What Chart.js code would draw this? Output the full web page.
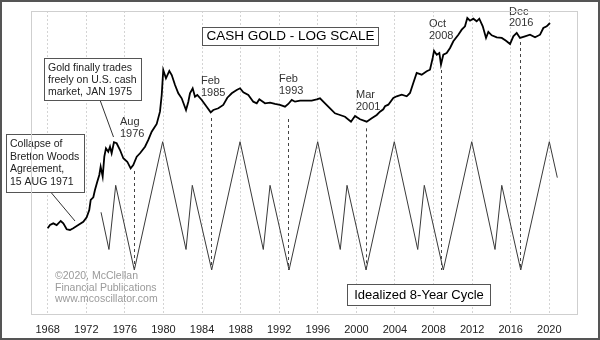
<!DOCTYPE html>
<html>
<head>
<meta charset="utf-8">
<script src="https://cdn.jsdelivr.net/npm/chart.js@4/dist/chart.umd.min.js"></script>
<style>
  html, body { margin: 0; padding: 0; background: #fff; }
  #wrap { width: 600px; height: 340px; }
</style>
</head>
<body>
<div id="wrap"><canvas id="chart" width="600" height="340"></canvas></div>
<script>
// cash gold, monthly-ish readings ($/oz, log scale)
const goldYears = [
  1968.0, 1968.24, 1968.58, 1968.93, 1969.35, 1969.62, 1969.97, 1970.31, 1970.65, 1971.17,
  1971.69, 1972.04, 1972.31, 1972.46, 1972.73, 1972.9, 1973.14, 1973.35, 1973.49, 1973.7,
  1973.87, 1974.04, 1974.28, 1974.46, 1974.63, 1974.87, 1975.15, 1975.5, 1975.84, 1976.25,
  1976.6, 1976.87, 1977.23, 1977.57, 1978.09, 1978.43, 1978.78, 1979.3, 1979.64, 1979.82,
  1979.98, 1980.26, 1980.61, 1980.86, 1981.2, 1981.54, 1981.89, 1982.34, 1982.58, 1982.75,
  1983.03, 1983.27, 1983.51, 1983.97, 1984.48, 1984.9, 1985.17, 1985.69, 1986.2, 1986.62,
  1987.08, 1987.59, 1987.94, 1988.28, 1988.8, 1989.31, 1989.67, 1989.94, 1990.53, 1991.05,
  1991.56, 1992.08, 1992.6, 1992.94, 1993.3, 1993.64, 1994.16, 1994.67, 1995.37, 1995.89,
  1996.23, 1996.75, 1997.27, 1997.78, 1998.3, 1998.82, 1999.44, 1999.86, 2000.38, 2001.07,
  2001.59, 2002.11, 2002.45, 2002.79, 2002.97, 2003.31, 2003.83, 2004.18, 2004.7, 2005.22,
  2005.56, 2005.9, 2006.25, 2006.77, 2007.29, 2007.63, 2007.91, 2008.05, 2008.33, 2008.6,
  2008.77, 2009.01, 2009.36, 2009.71, 2010.05, 2010.57, 2010.92, 2011.26, 2011.5, 2011.78,
  2012.12, 2012.47, 2012.74, 2013.1, 2013.44, 2013.68, 2014.03, 2014.55, 2015.07, 2015.51,
  2015.93, 2016.27, 2016.62, 2016.96, 2017.48, 2018.0, 2018.52, 2019.04, 2019.38, 2019.73,
  2020.07
]
const goldPrices = [
  39.5, 41.9, 43.2, 41.9, 45.1, 43.2, 38.8, 38.3, 39.5, 41.9,
  44.5, 48.2, 55.0, 66.0, 69.3, 79.1, 91.9, 103.8, 120.7, 100.7,
  144.7, 168.4, 158.4, 173.4, 153.9, 187.9, 184.5, 163.3, 140.6, 132.1,
  117.2, 124.4, 144.7, 153.9, 173.4, 195.9, 227.6, 261.7, 327.1, 442.7,
  696.5, 599.4, 684.1, 636.1, 530.8, 456.7, 416.9, 337.4, 392.2, 456.7,
  500.0, 429.4, 442.7, 404.4, 358.1, 323.5, 337.4, 347.9, 369.4, 421.6,
  456.7, 484.8, 500.0, 464.9, 442.7, 392.2, 381.0, 410.0, 381.0, 385.1,
  376.2, 369.4, 358.1, 376.2, 404.4, 392.2, 399.4, 399.4, 399.4, 409.5,
  416.9, 381.0, 347.9, 317.7, 308.1, 298.7, 272.9, 302.6, 285.0, 272.9,
  290.2, 308.1, 327.1, 341.6, 360.8, 371.4, 419.3, 432.5, 445.0, 432.5,
  459.0, 550.3, 659.9, 640.0, 680.6, 700.4, 866.2, 988.3, 919.6, 948.1,
  767.1, 919.6, 948.1, 1038, 1172, 1321, 1447, 1539, 1788, 1704,
  1766, 1685, 1766, 1539, 1245, 1388, 1307, 1260, 1245, 1185,
  1116, 1283, 1363, 1245, 1283, 1321, 1260, 1321, 1492, 1539,
  1633
]

// idealized 8-year cycle (0 = trough, 100 = crest)
const cycleYears = [
  1973.53, 1974.35, 1975.05, 1976.98, 1979.92, 1982.34, 1982.99, 1985.0, 1987.94, 1990.35,
  1991.05, 1993.02, 1995.99, 1998.33, 1999.03, 2001.0, 2003.93, 2006.36, 2007.04, 2009.01,
  2011.96, 2014.37, 2015.07, 2017.04, 2020.0, 2020.83
]
const cycleValues = [
  45, 16, 66, 0, 100, 16, 66, 0, 100, 16,
  66, 0, 100, 16, 66, 0, 100, 16, 66, 0,
  100, 16, 66, 0, 100, 72
]

const tickYears = [1968, 1972, 1976, 1980, 1984, 1988, 1992, 1996, 2000, 2004, 2008, 2012, 2016, 2020]

const markerYears = [1976.93, 1984.9, 1992.94, 2000.97, 2008.8, 2016.96]
const markerTops = [111.6, 291.8, 286.5, 242, 696.5, 1157]
const markerLabels = [['Aug', '1976'], ['Feb', '1985'], ['Feb', '1993'], ['Mar', '2001'], ['Oct', '2008'], ['Dec', '2016']]

const FONT = '"Liberation Sans", Arial, sans-serif'
Chart.defaults.font.family = FONT

const decor = {
  id: 'decor',
  beforeDraw(chart) {
    const ctx = chart.ctx
    ctx.save()
    ctx.fillStyle = '#fff'
    ctx.fillRect(0, 0, chart.width, chart.height)
    ctx.restore()
  },
  afterDatasetsDraw(chart) {
    const ctx = chart.ctx
    const x = chart.scales.x, gold = chart.scales.gold, cyc = chart.scales.cycle
    ctx.save()

    // dashed date markers from under the gold line down to the cycle trough
    ctx.strokeStyle = '#444'
    ctx.lineWidth = 1
    ctx.setLineDash([3, 3])
    markerYears.forEach((yr, i) => {
      const px = Math.round(x.getPixelForValue(yr)) + 0.5
      ctx.beginPath()
      ctx.moveTo(px, gold.getPixelForValue(markerTops[i]))
      ctx.lineTo(px, cyc.getPixelForValue(0))
      ctx.stroke()
    })
    ctx.setLineDash([])

    // marker labels
    const labelPos = [[120, 122, 134], [201, 81, 92.5], [279, 79, 91], [356, 94.5, 106.5], [429, 24, 35.5], [509, 11.5, 23]]
    ctx.fillStyle = '#333'
    ctx.font = '11px ' + FONT
    ctx.textAlign = 'left'
    ctx.textBaseline = 'middle'
    markerLabels.forEach((lines, i) => {
      const p = labelPos[i]
      ctx.fillText(lines[0], p[0], p[1])
      ctx.fillText(lines[1], p[0], p[2])
    })

    // connectors
    ctx.strokeStyle = '#333'
    ctx.beginPath()
    ctx.moveTo(100, 100); ctx.lineTo(113.5, 137)
    ctx.moveTo(51.5, 193); ctx.lineTo(75, 221)
    ctx.stroke()

    const box = (l, t, w, h) => {
      ctx.fillStyle = '#fff'
      ctx.fillRect(l, t, w, h)
      ctx.strokeStyle = '#555'
      ctx.lineWidth = 1
      ctx.strokeRect(l + 0.5, t + 0.5, w, h)
    }

    box(44, 58, 97, 42)
    box(6, 134, 78, 58)
    box(202, 27, 176, 18)
    box(347, 284, 143, 21)

    ctx.fillStyle = '#222'
    ctx.font = '10.5px ' + FONT
    ctx.textAlign = 'left'
    ;['Gold finally trades', 'freely on U.S. cash', 'market, JAN 1975'].forEach((s, i) => ctx.fillText(s, 48, 68.5 + i * 12))
    ;['Collapse of', 'Bretton Woods', 'Agreement,', '15 AUG 1971'].forEach((s, i) => ctx.fillText(s, 10, 144.5 + i * 12.5))

    ctx.fillStyle = '#000'
    ctx.textAlign = 'center'
    ctx.font = '13.5px ' + FONT
    ctx.fillText('CASH GOLD - LOG SCALE', 290.5, 36.5)
    ctx.font = '13px ' + FONT
    ctx.fillText('Idealized 8-Year Cycle', 419, 295)

    ctx.fillStyle = '#9a9a9a'
    ctx.textAlign = 'left'
    ctx.font = '10.5px ' + FONT
    ;['\u00a92020, McClellan', 'Financial Publications', 'www.mcoscillator.com'].forEach((s, i) => ctx.fillText(s, 55, 276 + i * 11.7))

    ctx.restore()
  },
  afterDraw(chart) {
    const ctx = chart.ctx
    const a = chart.chartArea
    ctx.save()
    ctx.strokeStyle = '#cfcfcf'
    ctx.lineWidth = 1
    ctx.strokeRect(a.left + 0.5, a.top + 0.5, a.right - a.left, a.bottom - a.top)
    ctx.strokeStyle = '#555'
    ctx.lineWidth = 2
    ctx.strokeRect(1, 1, chart.width - 2, chart.height - 2)
    ctx.restore()
  }
}

new Chart(document.getElementById('chart'), {
  type: 'line',
  data: {
    datasets: [
      {
        label: 'Cash gold',
        data: goldYears.map((yr, i) => ({ x: yr, y: goldPrices[i] })),
        yAxisID: 'gold',
        borderColor: '#000',
        borderWidth: 1.8,
        pointRadius: 0,
        tension: 0
      },
      {
        label: 'Idealized 8-Year Cycle',
        data: cycleYears.map((yr, i) => ({ x: yr, y: cycleValues[i] })),
        yAxisID: 'cycle',
        borderColor: '#3a3a3a',
        borderWidth: 1,
        pointRadius: 0,
        tension: 0
      }
    ]
  },
  options: {
    responsive: false,
    animation: false,
    layout: { padding: { left: 31, right: 23, top: 11, bottom: 0 } },
    plugins: {
      legend: { display: false },
      tooltip: { enabled: false }
    },
    scales: {
      x: {
        type: 'linear',
        min: 1966.27,
        max: 2022.87,
        afterBuildTicks: (scale) => { scale.ticks = tickYears.map(v => ({ value: v })) },
        afterFit: (scale) => { scale.height = 26 },
        grid: { color: '#d4d4d4', lineWidth: 1, drawTicks: false },
        border: { display: false, dash: [2, 2] },
        ticks: {
          color: '#222',
          font: { size: 11 },
          padding: 9,
          maxRotation: 0,
          autoSkip: false,
          callback: (v) => String(v)
        }
      },
      gold: {
        type: 'logarithmic',
        display: false,
        min: 8.35,
        max: 2030
      },
      cycle: {
        type: 'linear',
        display: false,
        min: -34.3,
        max: 201.9
      }
    }
  },
  plugins: [decor]
})
</script>
</body>
</html>
